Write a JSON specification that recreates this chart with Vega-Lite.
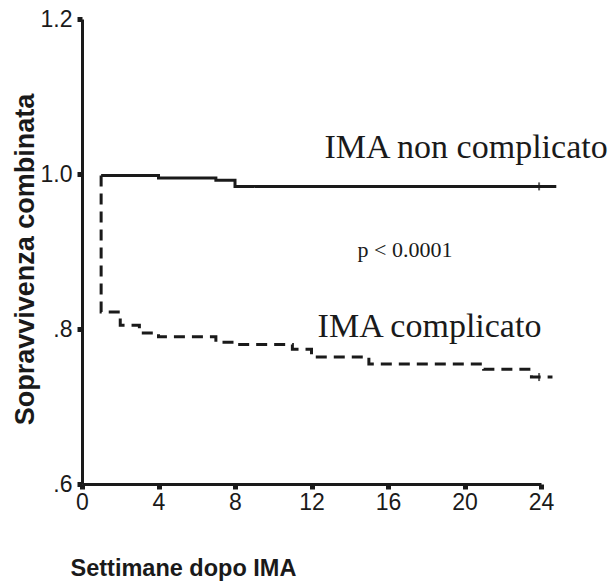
{
  "$schema": "https://vega.github.io/schema/vega-lite/v6.json",
  "width": 459,
  "height": 465,
  "autosize": {"type": "none"},
  "padding": {"left": 82, "top": 19, "right": 72, "bottom": 97},
  "background": "white",
  "config": {
    "view": {"stroke": null},
    "axis": {
      "labelFont": "Liberation Sans", "labelFontSize": 23, "labelColor": "#1a1a1a",
      "domain": true, "domainColor": "#1a1a1a", "domainWidth": 3,
      "ticks": true, "tickColor": "#1a1a1a", "tickWidth": 5, "tickSize": 5, "tickOpacity": 1,
      "grid": false, "labelFlush": false,
      "titleFont": "Liberation Sans", "titleFontWeight": "bold", "titleColor": "#1a1a1a"
    }
  },
  "datasets": {
    "curves": [
      {"group": "non complicato", "i": 1, "week": 1, "surv": 0.998},
      {"group": "non complicato", "i": 2, "week": 4, "surv": 0.995},
      {"group": "non complicato", "i": 3, "week": 7, "surv": 0.992},
      {"group": "non complicato", "i": 4, "week": 8, "surv": 0.984},
      {"group": "non complicato", "i": 5, "week": 24.8, "surv": 0.984},
      {"group": "complicato", "i": 1, "week": 1, "surv": 0.998},
      {"group": "complicato", "i": 2, "week": 1, "surv": 0.822},
      {"group": "complicato", "i": 3, "week": 2, "surv": 0.805},
      {"group": "complicato", "i": 4, "week": 3, "surv": 0.795},
      {"group": "complicato", "i": 5, "week": 4, "surv": 0.79},
      {"group": "complicato", "i": 6, "week": 7, "surv": 0.783},
      {"group": "complicato", "i": 7, "week": 8, "surv": 0.78},
      {"group": "complicato", "i": 8, "week": 11, "surv": 0.774},
      {"group": "complicato", "i": 9, "week": 12, "surv": 0.764},
      {"group": "complicato", "i": 10, "week": 15, "surv": 0.755},
      {"group": "complicato", "i": 11, "week": 21, "surv": 0.748},
      {"group": "complicato", "i": 12, "week": 23.5, "surv": 0.738},
      {"group": "complicato", "i": 13, "week": 24.6, "surv": 0.738}
    ],
    "censor": [
      {"week": 23.9, "surv": 0.984},
      {"week": 23.9, "surv": 0.738}
    ],
    "labels": [
      {"week": 20.08, "surv": 1.0206, "text": "IMA non complicato", "kind": "big"},
      {"week": 18.17, "surv": 0.7897, "text": "IMA complicato", "kind": "big"},
      {"week": 16.89, "surv": 0.893, "text": "p < 0.0001", "kind": "small"}
    ]
  },
  "encoding": {
    "x": {
      "field": "week", "type": "quantitative",
      "scale": {"domain": [0, 24], "nice": false, "zero": false},
      "axis": {
        "values": [0, 4, 8, 12, 16, 20, 24],
        "ticks": true, "tickSize": 5, "tickWidth": 5,
        "title": "Settimane dopo IMA",
        "titleFontSize": 23.5,
        "titleAnchor": "start", "titleAlign": "left", "titleX": -12, "titleY": 91, "titleBaseline": "alphabetic",
        "labelPadding": 2
      }
    },
    "y": {
      "field": "surv", "type": "quantitative",
      "scale": {"domain": [0.6, 1.2], "nice": false, "zero": false},
      "axis": {
        "values": [0.6, 0.8, 1.0, 1.2],
        "ticks": true, "tickSize": 5, "tickWidth": 5,
        "labelExpr": "datum.value == 0.6 ? '.6' : datum.value == 0.8 ? '.8' : format(datum.value, '.1f')",
        "title": "Sopravvivenza combinata",
        "titleFontSize": 27,
        "titleX": -49, "titleY": 240, "titleBaseline": "alphabetic", "titleAlign": "center", "titleAngle": -90,
        "labelPadding": 5
      }
    }
  },
  "layer": [
    {
      "data": {"name": "curves"},
      "mark": {"type": "line", "interpolate": "step-after", "color": "#1a1a1a", "strokeWidth": 3},
      "encoding": {
        "strokeDash": {
          "field": "group", "type": "nominal",
          "scale": {"domain": ["non complicato", "complicato"], "range": [[1, 0], [11, 7]]},
          "legend": null
        },
        "order": {"field": "i", "type": "quantitative"}
      }
    },
    {
      "data": {"name": "censor"},
      "mark": {"type": "tick", "orient": "vertical", "color": "#1a1a1a", "size": 8, "thickness": 2},
      "encoding": {}
    },
    {
      "data": {"name": "labels"},
      "transform": [{"filter": "datum.kind == 'big'"}],
      "mark": {"type": "text", "font": "Liberation Serif", "fontSize": 34, "color": "#1a1a1a", "align": "center", "baseline": "alphabetic"},
      "encoding": {"text": {"field": "text"}}
    },
    {
      "data": {"name": "labels"},
      "transform": [{"filter": "datum.kind == 'small'"}],
      "mark": {"type": "text", "font": "Liberation Serif", "fontSize": 22, "color": "#1a1a1a", "align": "center", "baseline": "alphabetic"},
      "encoding": {"text": {"field": "text"}}
    }
  ]
}
